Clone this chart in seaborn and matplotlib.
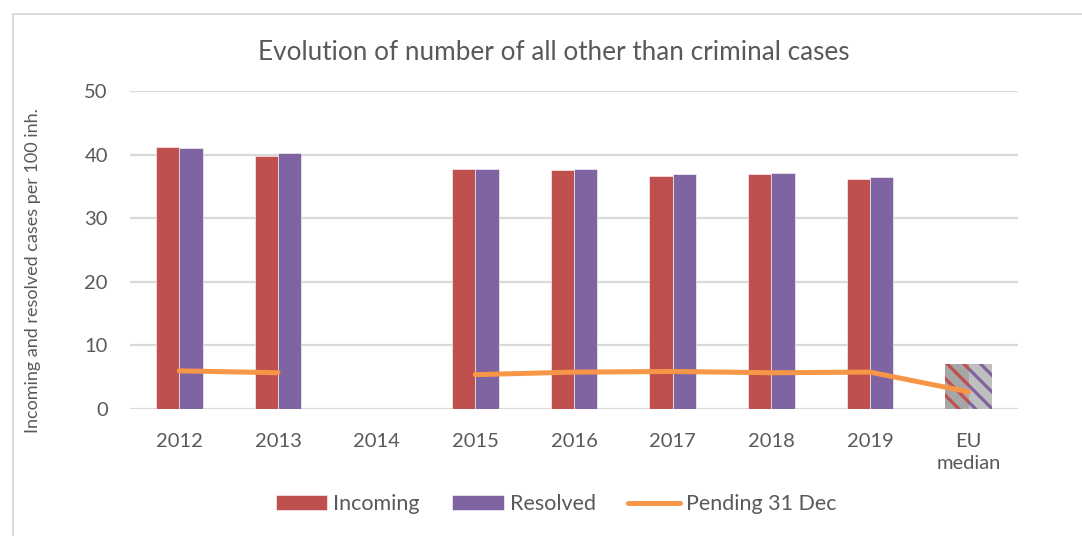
import numpy as np
import pandas as pd
import matplotlib
matplotlib.use("Agg")
import matplotlib.pyplot as plt
import seaborn as sns
from matplotlib.patches import Rectangle

categories = ["2012", "2013", "2014", "2015", "2016", "2017", "2018", "2019", "EU\nmedian"]
incoming = [41.2, 39.8, np.nan, 37.7, 37.6, 36.6, 37.0, 36.2, 7.1]
resolved = [41.0, 40.2, np.nan, 37.8, 37.7, 36.9, 37.1, 36.4, 7.1]
pending = [6.0, 5.7, np.nan, 5.4, 5.8, 5.9, 5.7, 5.8, 2.7]

RED = "#c0504d"
PURPLE = "#8064a2"
ORANGE = "#f79646"
GREY_TXT = "#595959"
GRID = "#d9d9d9"

plt.rcParams["font.family"] = ["Lato", "DejaVu Sans"]
plt.rcParams["hatch.linewidth"] = 2.3

df = pd.DataFrame({
    "category": categories * 2,
    "series": ["Incoming"] * len(categories) + ["Resolved"] * len(categories),
    "value": incoming + resolved,
}).dropna()

fig = plt.figure(figsize=(10.82, 5.36), dpi=100)
ax = fig.add_axes([130 / 1082, 1 - 409 / 536, (1018 - 130) / 1082, (409 - 91) / 536])

sns.barplot(data=df, x="category", y="value", hue="series", order=categories,
            hue_order=["Incoming", "Resolved"], palette=[RED, PURPLE],
            saturation=1, width=0.47, gap=0, ax=ax, legend=False,
            edgecolor="white", linewidth=0.4)

# EU median bars: grey with coloured diagonal stripes
eu_style = [("#a6a6a6", RED), ("#bfbfbf", PURPLE)]
for cont, (fc, hc) in zip(ax.containers, eu_style):
    for bar in cont:
        if abs(bar.get_x() + bar.get_width() / 2 - 8) < 0.4:
            bar.set_facecolor(fc)
            bar.set_edgecolor(hc)
            bar.set_hatch("\\\\")
            bar.set_linewidth(0)

line, = ax.plot(np.arange(len(categories)), pending, color=ORANGE, lw=3.6,
                solid_capstyle="round", label="Pending 31 Dec")

ax.set_xlim(-0.5, 8.5)
ax.set_ylim(0, 50)
ax.set_yticks(range(0, 51, 10))
ax.yaxis.grid(True, color=GRID, lw=1.6)
ax.set_axisbelow(True)
for s in ax.spines.values():
    s.set_visible(False)
ax.tick_params(axis="both", length=0, labelsize=14.5, labelcolor=GREY_TXT)
ax.tick_params(axis="x", pad=17)
ax.tick_params(axis="y", pad=16)
for t in ax.get_xticklabels():
    t.set_linespacing(1.4)
ax.set_xlabel("")
ax.set_ylabel("Incoming and resolved cases per 100 inh.", fontsize=13,
              color=GREY_TXT)
ax.yaxis.set_label_coords(-0.100, 0.434)

fig.text(554 / 1082, 1 - 52 / 536, "Evolution of number of all other than criminal cases",
         ha="center", va="center", fontsize=18.8, color=GREY_TXT)

handles = [Rectangle((0, 0), 1, 1, facecolor=RED, edgecolor="white", lw=0.4),
           Rectangle((0, 0), 1, 1, facecolor=PURPLE, edgecolor="white", lw=0.4),
           line]
leg = fig.legend(handles, ["Incoming", "Resolved", "Pending 31 Dec"], loc="center",
                 bbox_to_anchor=(556 / 1082, 1 - 504 / 536), ncol=3, frameon=False,
                 fontsize=15.5, handlelength=2.4, handleheight=0.65, handletextpad=0.28,
                 columnspacing=1.5, labelcolor=GREY_TXT)

fig.patches.append(Rectangle((13 / 1082, -0.1), 1.2, 1 - 14 / 536 + 0.1,
                             transform=fig.transFigure, fill=False,
                             edgecolor=GRID, lw=1.4))

fig.savefig("out.png", dpi=100)
